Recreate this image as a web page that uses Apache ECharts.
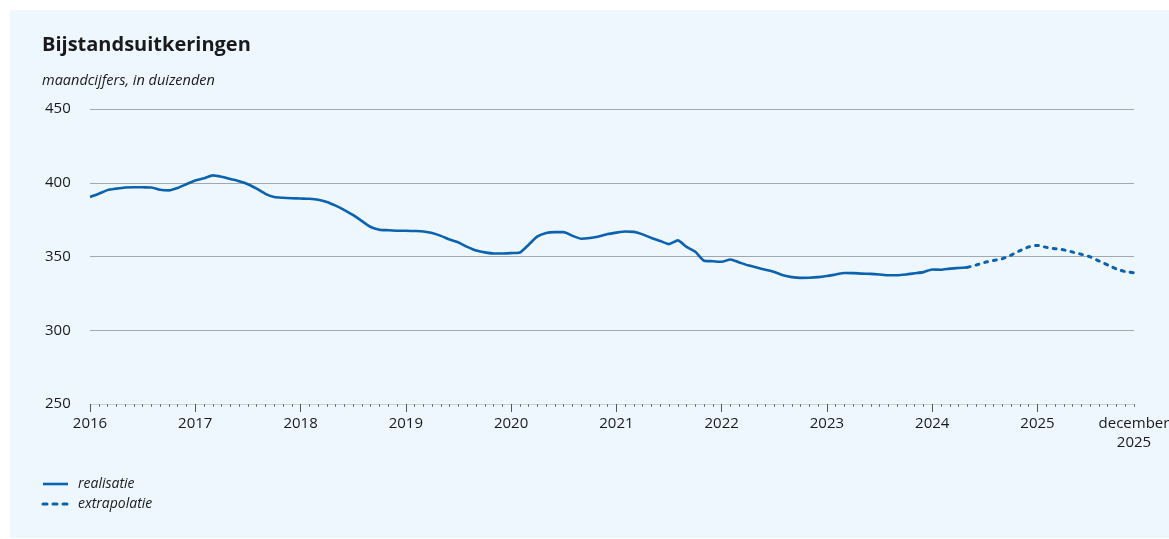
<!DOCTYPE html>
<html>
<head>
<meta charset="utf-8">
<script src="https://cdn.jsdelivr.net/npm/echarts@6/dist/echarts.min.js"></script>
<style>
  html, body { margin: 0; padding: 0; background: #fff; }
  #chart { width: 1169px; height: 539px; }
</style>
</head>
<body>
<div id="chart"></div>
<script>
// maandcijfers jan 2016 - dec 2025, in duizenden
const years = [2016, 2017, 2018, 2019, 2020, 2021, 2022, 2023, 2024, 2025];
const months = [];
years.forEach(y => { for (let m = 1; m <= 12; m++) months.push(`${y}-${String(m).padStart(2, "0")}`); });

const realisatie = [
  390.3, 392.5, 395.0, 396.0, 396.8, 397.0, 396.9, 396.8, 395.2, 394.8, 396.5, 399.0, // 2016
  401.5, 403.0, 405.0, 404.0, 402.5, 401.0, 399.0, 396.0, 392.5, 390.3, 389.8, 389.5, // 2017
  389.3, 389.1, 388.5, 387.0, 384.5, 381.5, 378.0, 374.0, 370.0, 368.2, 367.8, 367.5, // 2018
  367.5, 367.3, 367.0, 366.0, 364.0, 361.5, 359.5, 356.5, 354.0, 352.8, 352.0, 352.0, // 2019
  352.3, 352.7, 358.0, 363.6, 366.0, 366.5, 366.5, 364.0, 362.0, 362.5, 363.5, 365.2, // 2020
  366.2, 367.0, 366.7, 365.0, 362.5, 360.5, 358.4, 360.9, 356.5, 353.2, 347.1, 346.8, // 2021
  346.4, 348.0, 346.0, 344.0, 342.5, 341.0, 339.5, 337.3, 336.0, 335.5, 335.6, 336.0, // 2022
  336.8, 337.8, 338.8, 338.7, 338.4, 338.2, 337.8, 337.3, 337.3, 337.8, 338.6, 339.4, // 2023
  341.2, 341.0, 341.8, 342.2, 342.6                                                   // 2024 t/m mei
];
const extrapolatie = [
  342.6, 344.2, 346.0, 347.3, 348.5, 351.0, 354.0, 356.5,                             // mei - dec 2024
  357.5, 356.2, 355.3, 354.5, 353.0, 351.5, 349.8, 347.0, 344.3, 341.5, 339.8, 339.0  // 2025
];

const yTicks = [250, 300, 350, 400, 450];
const lastLabel = "december\n2025";
const legendNames = ["realisatie", "extrapolatie"];

const startExtra = realisatie.length - 1;
const realData = months.map((_, i) => (i < realisatie.length ? realisatie[i] : null));
const extraData = months.map((_, i) => (i >= startExtra ? extrapolatie[i - startExtra] : null));

const blue = "#0b63b0";
const ink = "#1a1a1a";
const font = "'Open Sans', 'Noto Sans', sans-serif";

// legenda als losse graphic-elementen (lijn + tekst)
const legendItems = [];
legendNames.forEach((name, k) => {
  const y = 484 + k * 20;
  legendItems.push({
    type: "line", shape: { x1: 43, y1: y, x2: 68, y2: y },
    style: { stroke: blue, lineWidth: k ? 3 : 2.6, lineDash: k ? [4, 6] : null, lineCap: k ? "round" : "butt" },
  });
  legendItems.push({
    type: "text", x: 78, y: y,
    style: { text: name, font: `italic 14px ${font}`, fill: ink, verticalAlign: "middle" },
  });
});

const chart = echarts.init(document.getElementById("chart"));
chart.setOption({
  animation: false,
  backgroundColor: "#ffffff",
  graphic: [
    { type: "rect", z: -10, shape: { x: 10, y: 10, width: 1159, height: 528 }, style: { fill: "#eef7fe" } },
    { type: "text", left: 42, top: 35, style: { text: "Bijstandsuitkeringen", font: `bold 20px ${font}`, fill: ink } },
    { type: "text", left: 42, top: 73, style: { text: "maandcijfers, in duizenden", font: `italic 14.5px ${font}`, fill: ink } },
    ...legendItems,
  ],
  grid: { left: 90, right: 35, top: 109, bottom: 135, outerBoundsMode: "none", containLabel: false },
  xAxis: [
    {
      type: "category", data: months, boundaryGap: false, position: "bottom", z: 5,
      axisLine: { lineStyle: { color: "#c9d1d8", width: 1 } },
      axisTick: { interval: 0, length: 3, lineStyle: { color: "#777" } },
      axisLabel: {
        interval: i => i % 12 === 0 || i === months.length - 1,
        formatter: (v, i) => (i === months.length - 1 ? lastLabel : v.slice(0, 4)),
        fontFamily: font, fontSize: 15, color: ink, margin: 10, lineHeight: 19,
      },
      splitLine: { show: false },
    },
    {
      type: "category", data: months, boundaryGap: false, position: "bottom", z: 5,
      axisLine: { show: false },
      axisTick: { interval: i => i % 12 === 0, length: 8, lineStyle: { color: "#555" } },
      axisLabel: { show: false },
      splitLine: { show: false },
    },
  ],
  yAxis: {
    type: "value", min: yTicks[0], max: yTicks[yTicks.length - 1], interval: 50,
    axisLine: { show: false }, axisTick: { show: false },
    axisLabel: { align: "left", margin: 45, fontFamily: font, fontSize: 15, color: ink },
    splitLine: { lineStyle: { color: "#a3a8ad", width: 1 } },
  },
  series: [
    {
      name: legendNames[0], type: "line", data: realData, showSymbol: false, symbol: "none",
      connectNulls: false, smooth: 0.2,
      lineStyle: { color: blue, width: 2.6 }, itemStyle: { color: blue },
    },
    {
      name: legendNames[1], type: "line", data: extraData, showSymbol: false, symbol: "none",
      connectNulls: false, smooth: 0.2,
      lineStyle: { color: blue, width: 3, type: [3, 6], cap: "round" }, itemStyle: { color: blue },
    },
  ],
});
</script>
</body>
</html>
